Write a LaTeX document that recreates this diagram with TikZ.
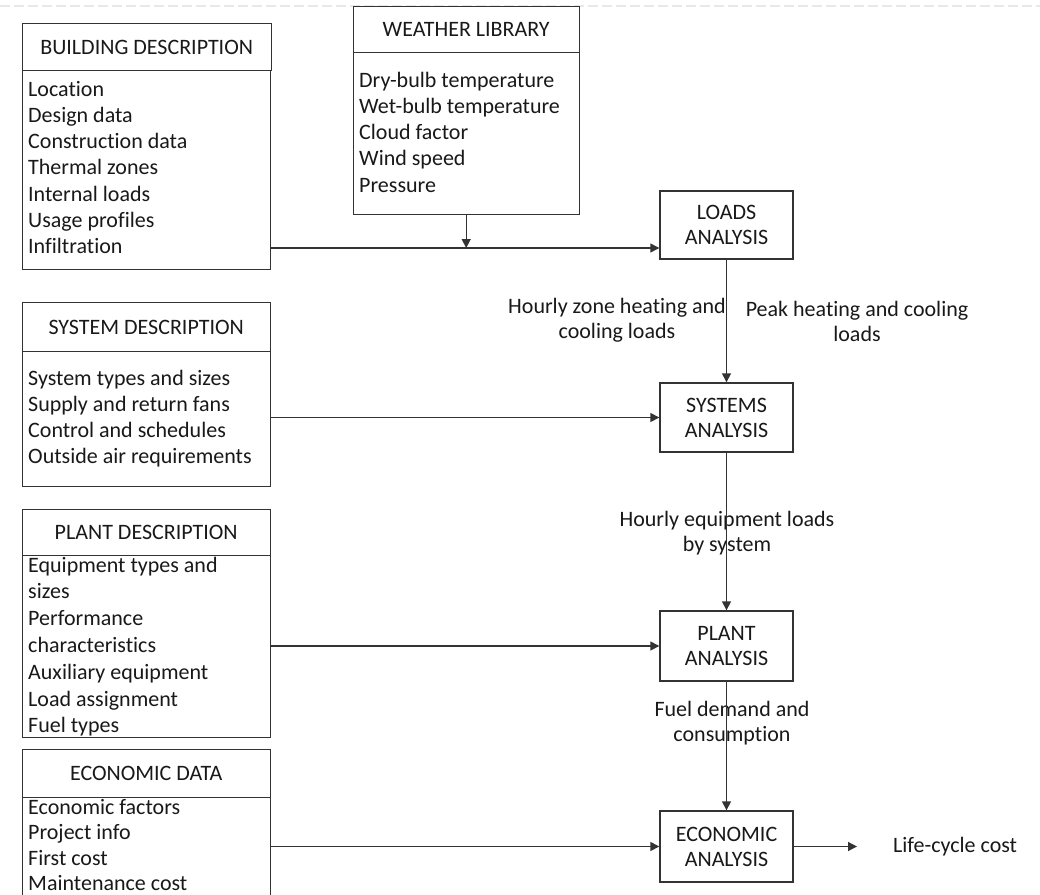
\documentclass[tikz,border=0pt]{standalone}
\usepackage{fontspec}
\setmainfont{Carlito}[Ligatures={NoCommon}]
\usetikzlibrary{arrows.meta}
\begin{document}
\begin{tikzpicture}[x=1pt,y=-1pt,
  every node/.style={font=\fontsize{22}{25}\selectfont, text=black!90},
  box/.style={draw=black!80, line width=1.4pt, anchor=north west, inner sep=0pt},
  item/.style={anchor=base west, inner sep=0pt},
  stage/.style={draw=black!80, line width=1.4pt, minimum width=133pt, align=center, inner sep=0pt},
  flow/.style={draw=black!80, line width=1.4pt, -{Triangle[length=9pt,width=9pt]}},
  note/.style={align=center, inner sep=0pt}]
\clip (0,0) rectangle (1040,894);
\fill[white] (0,0) rectangle (1040,894);
\draw[black!9, line width=2pt, dash pattern=on 10pt off 4pt] (0,5.5) -- (1040,5.5);

% Building description
\node[box, minimum width=249pt, minimum height=47pt] (bdh) at (21.5,23) {BUILDING DESCRIPTION};
\node[box, minimum width=248pt, minimum height=199pt] (bdb) at (21.5,70) {};
\foreach \t [count=\i from 0] in {Location, Design data, Construction data, Thermal zones, Internal loads, Usage profiles, Infiltration}
  \node[item] (bd\i) at (28, 96+26.3*\i) {\t};

% Weather library
\node[box, minimum width=226pt, minimum height=46pt] (wh) at (352.5,6) {WEATHER LIBRARY};
\node[box, minimum width=226pt, minimum height=162pt] (wb) at (352.5,52) {};
\foreach \t [count=\i from 0] in {Dry-bulb temperature, Wet-bulb temperature, Cloud factor, Wind speed, Pressure}
  \node[item] (wl\i) at (359, 87+26.3*\i) {\t};

% System description
\node[box, minimum width=248pt, minimum height=49pt] (sdh) at (21.5,302) {SYSTEM DESCRIPTION};
\node[box, minimum width=248pt, minimum height=135pt] (sdb) at (21.5,351) {};
\foreach \t [count=\i from 0] in {System types and sizes, Supply and return fans, Control and schedules, Outside air requirements}
  \node[item] (sd\i) at (28, 385+26.3*\i) {\t};

% Plant description
\node[box, minimum width=248pt, minimum height=46pt] (pdh) at (21.5,509) {PLANT DESCRIPTION};
\node[box, minimum width=248pt, minimum height=182pt] (pdb) at (21.5,555) {};
\foreach \t [count=\i from 0] in {Equipment types and, sizes, Performance, characteristics, Auxiliary equipment, Load assignment, Fuel types}
  \node[item] (pd\i) at (28, 572+26.8*\i) {\t};

% Economic data
\node[box, minimum width=248pt, minimum height=48pt] (edh) at (21.5,749) {ECONOMIC DATA};
\node[box, minimum width=248pt, minimum height=130pt] (edb) at (21.5,797) {};
\foreach \t [count=\i from 0] in {Economic factors, Project info, First cost, Maintenance cost}
  \node[item] (ed\i) at (28, 814+25.6*\i) {\t};

% Analysis stages
\node[stage, minimum height=68pt] (loads) at (726.5,225) {LOADS\\ANALYSIS};
\node[stage, minimum height=69pt] (sys) at (726.5,417.5) {SYSTEMS\\ANALYSIS};
\node[stage, minimum height=70pt] (pla) at (726.5,646) {PLANT\\ANALYSIS};
\node[stage, minimum height=71pt] (eco) at (726.5,846.5) {ECONOMIC\\ANALYSIS};

% Flow labels
\node[note] (l1) at (617,320) {Hourly zone heating and\\cooling loads};
\node[note] (l2) at (857,321) {Peak heating and cooling\\loads};
\node[note] (l3) at (727,533) {Hourly equipment loads\\by system};
\node[note] (l4) at (732,723) {Fuel demand and\\consumption};
\node[anchor=west, inner sep=0pt] (lcc) at (893,847) {Life-cycle cost};

% Connectors
\coordinate (j1) at (465.5,248);
\coordinate (out) at (857,847);
\draw[flow] (bdb.east |- j1) -- (j1 -| loads.west);
\draw[flow] (wb.south) -- (wb.south |- j1);
\draw[flow] (sdb.east |- sys.west) -- (sys.west);
\draw[flow] (pdb.east |- pla.west) -- (pla.west);
\draw[flow] (edb.east |- eco.west) -- (eco.west);
\draw[flow] (loads.south) -- (sys.north);
\draw[flow] (sys.south) -- (pla.north);
\draw[flow] (pla.south) -- (eco.north);
\draw[flow] (eco.east) -- (eco.east -| out);
\end{tikzpicture}
\end{document}
